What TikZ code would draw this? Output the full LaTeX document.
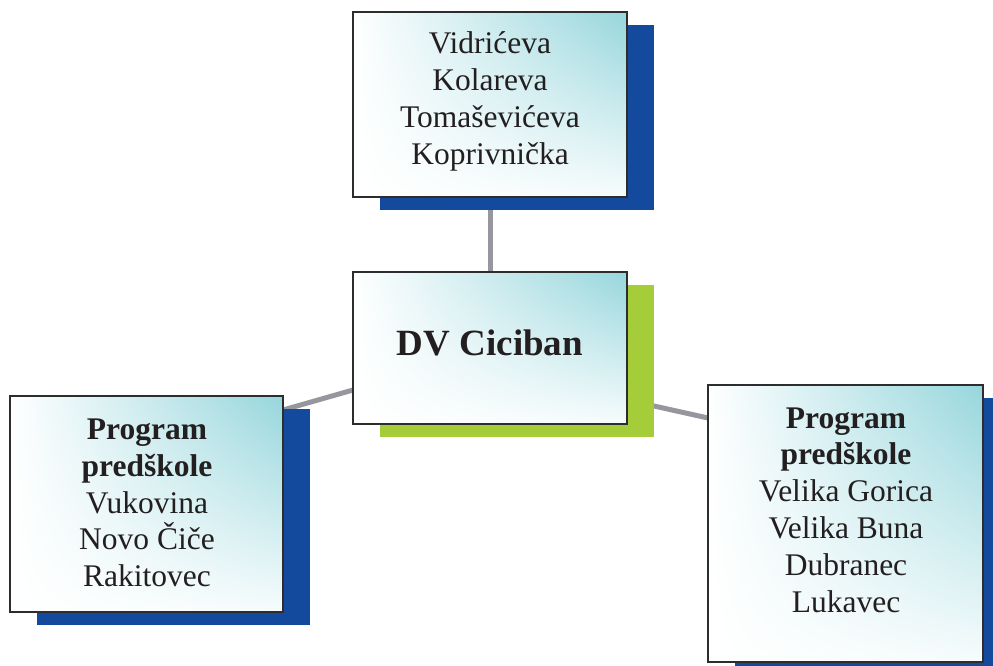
\documentclass[tikz,border=0pt]{standalone}
\usepackage{fontspec}
\setmainfont{Liberation Serif}
\usetikzlibrary{shadows,calc,shadings}
\definecolor{shblue}{RGB}{20,74,158}
\definecolor{shgreen}{RGB}{165,205,57}
\definecolor{tealc}{RGB}{150,214,220}
\definecolor{linkgray}{RGB}{150,150,158}
\definecolor{txt}{RGB}{35,31,32}
\definecolor{edge}{RGB}{45,45,45}
\tikzset{
  box/.style={rectangle, draw=edge, line width=1.6pt, inner sep=0pt,
    upper left=white, upper right=tealc, lower left=white, lower right=white!92!tealc,
    shade, text=txt, align=center},
  blueshadow/.style={general shadow={shadow xshift=27pt, shadow yshift=-13pt, fill=shblue, draw=none}},
  greenshadow/.style={general shadow={shadow xshift=27pt, shadow yshift=-13pt, fill=shgreen, draw=none}},
  link/.style={draw=linkgray, line width=5pt},
  lbl/.style={text=txt, align=center, font=\fontsize{31.5}{36.8}\selectfont, inner sep=0pt}
}
\begin{document}
\begin{tikzpicture}[x=1pt,y=-1pt]
\useasboundingbox (0,0) rectangle (993,666);
% connector geometry (drawn first, under the boxes)
\coordinate (tb) at (490,197);
\coordinate (ct) at (490,272);
\coordinate (le) at (283,410);
\coordinate (cl) at (353,390);
\coordinate (cr) at (627,400);
\coordinate (rl) at (708,418);
\draw[link] (tb) -- (ct);
\draw[link] (le) -- (cl);
\draw[link] (cr) -- (rl);
% boxes
\node[box, blueshadow, minimum width=274pt, minimum height=185pt] (top) at (490,104.5) {};
\node[box, greenshadow, minimum width=274pt, minimum height=152pt] (cen) at (490,348) {};
\node[box, blueshadow, minimum width=273pt, minimum height=216pt] (lft) at (146.5,504) {};
\node[box, blueshadow, minimum width=275pt, minimum height=277pt] (rgt) at (845.5,523.5) {};
% texts
\node[lbl] (toptxt) at (490,101.5) {Vidrićeva\\Kolareva\\Tomaševićeva\\Koprivnička};
\node[lbl, font=\fontsize{37}{44}\selectfont\bfseries] (centxt) at (490,343) {DV Ciciban};
\node[lbl] (lfttxt) at (147,503) {\textbf{Program}\\\textbf{predškole}\\Vukovina\\Novo Čiče\\Rakitovec};
\node[lbl] (rgttxt) at (846,510) {\textbf{Program}\\\textbf{predškole}\\Velika Gorica\\Velika Buna\\Dubranec\\Lukavec};
\end{tikzpicture}
\end{document}
